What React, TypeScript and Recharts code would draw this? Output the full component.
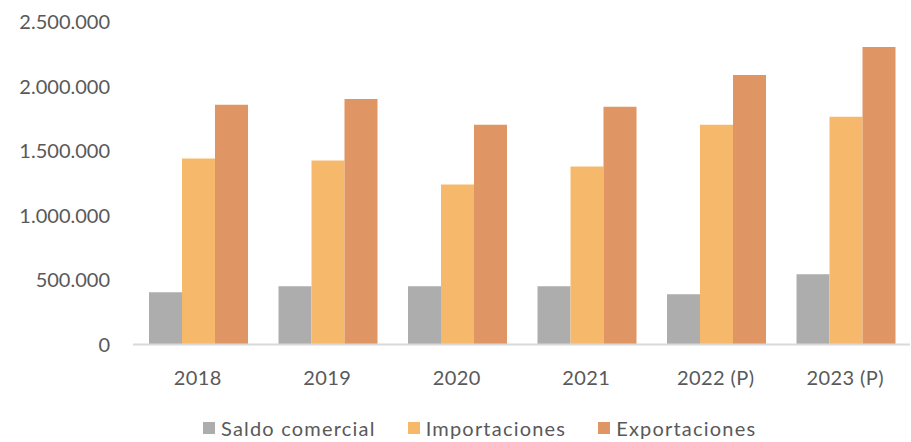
import React from 'react';
import { BarChart, Bar, XAxis, YAxis, Legend } from 'recharts';

const years = ['2018', '2019', '2020', '2021', '2022 (P)', '2023 (P)'];
const saldoComercial = [406000, 452000, 452000, 452000, 390000, 545000];
const importaciones = [1441000, 1426000, 1240000, 1379000, 1704000, 1766000];
const exportaciones = [1858000, 1903000, 1704000, 1843000, 2090000, 2307000];
const yTicks = [0, 500000, 1000000, 1500000, 2000000, 2500000];

const series = [
  { key: 'saldo', name: 'Saldo comercial', color: '#ADADAD' },
  { key: 'imp', name: 'Importaciones', color: '#F6B96C' },
  { key: 'exp', name: 'Exportaciones', color: '#E09664' },
];

const data = years.map((year, i) => ({
  year,
  saldo: saldoComercial[i],
  imp: importaciones[i],
  exp: exportaciones[i],
}));

const FONT = 'Lato, "Open Sans", sans-serif';
const TEXT = '#595959';

const formatNumber = (v: number) => String(v).replace(/\B(?=(\d{3})+(?!\d))/g, '.');

function LegendContent() {
  return (
    <div style={{ display: 'flex', alignItems: 'center', paddingLeft: 203, paddingTop: 28, fontFamily: FONT, fontSize: 20, color: TEXT }}>
      {series.map((s) => (
        <div key={s.key} style={{ display: 'flex', alignItems: 'center', marginRight: 32 }}>
          <div style={{ width: 12, height: 12, background: s.color, marginRight: 6 }} />
          <span style={{ lineHeight: '20px', letterSpacing: 1.2 }}>{s.name}</span>
        </div>
      ))}
    </div>
  );
}

export default function App() {
  return (
    <div style={{ position: 'absolute', left: 0, top: 0, width: 911, height: 442, background: '#fff' }}>
      <BarChart
        width={911}
        height={442}
        data={data}
        margin={{ top: 22, right: 1, left: 0, bottom: 0 }}
        barCategoryGap={16}
        barGap={0}
      >
        <XAxis
          dataKey="year"
          tickLine={false}
          axisLine={{ stroke: '#D9D9D9', strokeWidth: 2 }}
          tick={{ fill: TEXT, fontSize: 20, fontFamily: FONT, letterSpacing: 0.4 }}
          tickMargin={20}
          height={45.5}
          interval={0}
        />
        <YAxis
          domain={[0, 2500000]}
          ticks={yTicks}
          tickFormatter={formatNumber}
          axisLine={false}
          tickLine={false}
          tick={{ fill: TEXT, fontSize: 20, fontFamily: FONT }}
          tickMargin={17}
          width={133}
          interval={0}
        />
        <Legend verticalAlign="bottom" height={52} wrapperStyle={{ left: 0, width: 911 }} content={<LegendContent />} />
        {series.map((s) => (
          <Bar key={s.key} dataKey={s.key} name={s.name} fill={s.color} isAnimationActive={false} />
        ))}
      </BarChart>
    </div>
  );
}
